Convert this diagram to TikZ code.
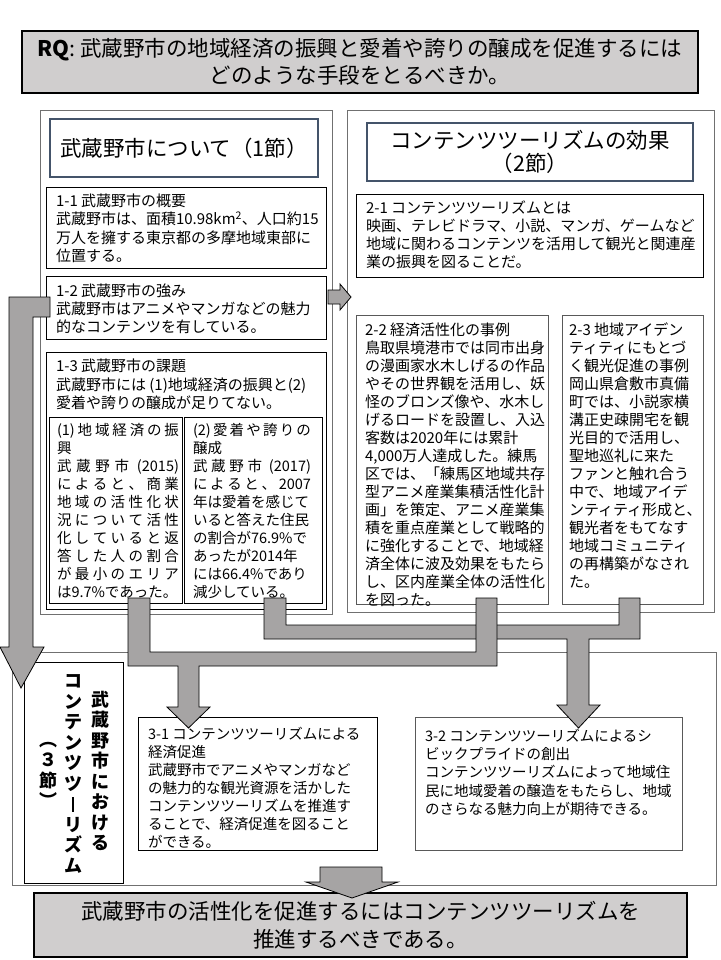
\documentclass[tikz,border=0pt]{standalone}
\usepackage{fontspec}
\setmainfont{Noto Sans CJK JP}
\usetikzlibrary{calc}
\definecolor{agray}{HTML}{A6A4A4}
\definecolor{lgray}{HTML}{D0CECE}
\definecolor{fgray}{HTML}{707070}
\definecolor{slate}{HTML}{44546A}
\definecolor{bgray}{HTML}{595959}
\makeatletter
\def\spr@end{\@nil}
\def\spr@ad#1{#1\spr@@ad}
\def\spr@@ad#1{\def\spr@tmp{#1}\ifx\spr@tmp\spr@end\else\hfil#1\expandafter\spr@@ad\fi}
\newcommand\spreadline[2]{\makebox[#1][s]{\spr@ad#2\@nil}}
\makeatother
\newcommand\rbox[6]{\node[#6, anchor=north west, inner sep=0pt, outer sep=0pt, minimum width={#4pt-#2pt}, minimum height={#5pt-#3pt}] (#1) at (#2,#3) {};}
\newcommand\vbar{\rule[-1pt]{2.6pt}{15pt}}
\tikzset{
  frame/.style={draw=fgray, line width=0.9pt},
  tbox/.style={draw=black, line width=0.8pt, fill=white},
  gbox/.style={draw=bgray, line width=0.8pt, fill=white},
  headbox/.style={draw=slate, line width=2pt, fill=white},
  keybox/.style={draw=black, line width=1.8pt, fill=lgray},
  txt/.style={inner sep=0pt, outer sep=0pt, align=left, anchor=north west},
  body/.style={txt, font=\fontsize{15}{#1}\selectfont},
  body/.default=18,
  sbody/.style={txt, font=\fontsize{14.5}{#1}\selectfont},
  inner/.style={txt, font=\fontsize{14.5}{18}\selectfont},
  headtxt/.style={inner sep=0pt, align=center, font=\fontsize{21.5}{23}\selectfont},
  keytxt/.style={inner sep=0pt, align=center, font=\fontsize{21.5}{27.5}\selectfont},
  vtxt/.style={inner sep=0pt, align=center, font=\bfseries\fontsize{18}{20.5}\selectfont},
  blockarrow/.style={draw=black, line width=0.8pt, fill=agray, line join=miter},
}
\begin{document}
\begin{tikzpicture}[x=1pt,y=-1pt]
\useasboundingbox (0,0) rectangle (720,960);
\fill[white] (0,0) rectangle (720,960);
% section frames
\rbox{sec1}{40}{110}{332}{614}{frame}
\rbox{sec2}{347}{110}{714}{612}{frame}
\rbox{sec3}{12}{652}{716}{885}{frame}
% key boxes
\rbox{rq}{22}{31}{698}{93}{keybox}
\node[keytxt] (rqt) at (rq.center) {\textbf{RQ}: 武蔵野市の地域経済の振興と愛着や誇りの醸成を促進するには\\どのような手段をとるべきか。};
\rbox{concl}{34}{893}{687}{957}{keybox}
\node[keytxt] (conclt) at (concl.center) {武蔵野市の活性化を促進するにはコンテンツツーリズムを\\推進するべきである。};
% headings
\rbox{h1}{50}{119}{318}{177}{headbox}
\node[headtxt] (h1t) at (h1.center) {武蔵野市について（1節）};
\rbox{h2}{367}{123}{693}{181}{headbox}
\node[headtxt] (h2t) at (h2.center) {コンテンツツーリズムの効果\\（2節）};
% section 1
\rbox{b11}{46}{187}{326}{268}{tbox}
\node[body=18.3] (t11) at (56,194) {1-1 武蔵野市の概要\\武蔵野市は、面積10.98km\textsuperscript{2}、人口約15\\万人を擁する東京都の多摩地域東部に\\位置する。};
\rbox{b12}{46}{276}{326}{339}{tbox}
\node[body=18] (t12) at (56,284) {1-2 武蔵野市の強み\\武蔵野市はアニメやマンガなどの魅力\\的なコンテンツを有している。};
\rbox{b13}{46}{352}{326}{609}{tbox}
\node[body=18.5] (t13) at (56,359) {1-3 武蔵野市の課題\\武蔵野市には (1)地域経済の振興と(2)\\愛着や誇りの醸成が足りてない。};
\rbox{bi1}{49}{417}{182}{603}{tbox}
\node[inner] (ti1) at (57,423) {\spreadline{122pt}{{(1)}地域経済の振}\\興\\\spreadline{122pt}{武蔵野市{ (2015)}}\\\spreadline{122pt}{によると、商業}\\\spreadline{122pt}{地域の活性化状}\\\spreadline{122pt}{況について活性}\\\spreadline{122pt}{化していると返}\\\spreadline{122pt}{答した人の割合}\\\spreadline{122pt}{が最小のエリア}\\は9.7\%であった。};
\rbox{bi2}{184}{417}{322}{603}{tbox}
\node[inner] (ti2) at (193,423) {\spreadline{118pt}{{(2)}愛着や誇りの}\\醸成\\\spreadline{118pt}{武蔵野市{ (2017)}}\\\spreadline{118pt}{によると、{2007}}\\年は愛着を感じて\\いると答えた住民\\の割合が76.9\%で\\あったが2014年\\には66.4\%であり\\減少している。};
% section 2
\rbox{b21}{356}{194}{703}{277}{tbox}
\node[body=18] (t21) at (366,201) {2-1 コンテンツツーリズムとは\\映画、テレビドラマ、小説、マンガ、ゲームなど\\地域に関わるコンテンツを活用して観光と関連産\\業の振興を図ることだ。};
\rbox{b22}{356}{315}{548}{604}{gbox}
\node[body=18] (t22) at (365,323) {2-2 経済活性化の事例\\鳥取県境港市では同市出身\\の漫画家水木しげるの作品\\やその世界観を活用し、妖\\怪のブロンズ像や、水木し\\げるロードを設置し、入込\\客数は2020年には累計\\4,000万人達成した。練馬\\区では、「練馬区地域共存\\型アニメ産業集積活性化計\\画」を策定、アニメ産業集\\積を重点産業として戦略的\\に強化することで、地域経\\済全体に波及効果をもたら\\し、区内産業全体の活性化\\を図った。};
\rbox{b23}{562}{315}{703}{604}{gbox}
\node[body=18] (t23) at (569,323) {2-3 地域アイデン\\ティティにもとづ\\く観光促進の事例\\岡山県倉敷市真備\\町では、小説家横\\溝正史疎開宅を観\\光目的で活用し、\\聖地巡礼に来た\\ファンと触れ合う\\中で、地域アイデ\\ンティティ形成と、\\観光者をもてなす\\地域コミュニティ\\の再構築がなされ\\た。};
% section 3
\rbox{b3t}{24}{662}{123}{883}{tbox}
\node[vtxt] (v1) at (100,771) {武\\蔵\\野\\市\\に\\お\\け\\る};
\node[vtxt] (v2) at (73,774) {コ\\ン\\テ\\ン\\ツ\\ツ\\\vbar\\リ\\ズ\\ム};
\node[vtxt] (v3) at (48,775) {︵\\３\\節\\︶};
\rbox{b31}{138}{717}{377}{850}{tbox}
\node[sbody=18] (t31) at (148,727) {3-1 コンテンツツーリズムによる\\経済促進\\武蔵野市でアニメやマンガなど\\の魅力的な観光資源を活かした\\コンテンツツーリズムを推進す\\ることで、経済促進を図ること\\ができる。};
\rbox{b32}{415}{717}{682}{850}{gbox}
\node[sbody=18.3] (t32) at (425,729) {3-2 コンテンツツーリズムによるシ\\ビックプライドの創出\\コンテンツツーリズムによって地域住\\民に地域愛着の醸造をもたらし、地域\\のさらなる魅力向上が期待できる。};
% block arrows
\draw[blockarrow] (9,297) -- (50,297) -- (50,317) -- (33,317) -- (33,647) -- (44,647) -- (21,688) -- (0,647) -- (9,647) -- cycle;
\draw[blockarrow] (328,290) -- (340,290) -- (340,284) -- (351,297) -- (340,310) -- (340,304) -- (328,304) -- cycle;
\draw[blockarrow] (264,598) -- (286,598) -- (286,625) -- (619,625) -- (619,598) -- (640,598) -- (640,639) -- (589,639) -- (589,705) -- (600,705) -- (578.5,728) -- (557,705) -- (567,705) -- (567,639) -- (264,639) -- cycle;
\draw[blockarrow] (128,598) -- (150,598) -- (150,652) -- (476,652) -- (476,598) -- (497,598) -- (497,666) -- (199,666) -- (199,707) -- (210,707) -- (188.5,728) -- (167,707) -- (178,707) -- (178,666) -- (128,666) -- cycle;
\draw[blockarrow] (320,867) -- (382,867) -- (382,882) -- (398,882) -- (352,898) -- (306,882) -- (320,882) -- cycle;
\end{tikzpicture}
\end{document}
